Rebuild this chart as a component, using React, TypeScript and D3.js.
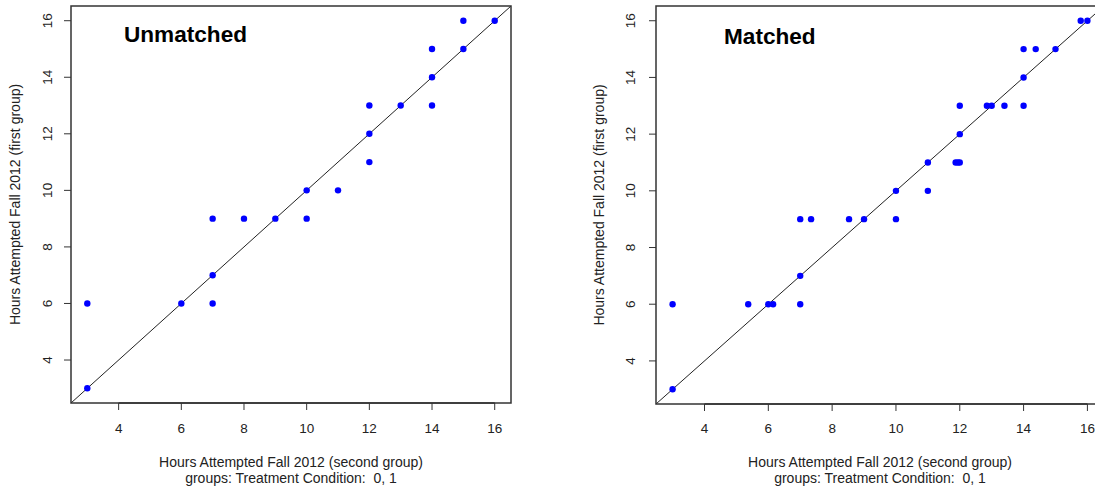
import React from "react";
import * as d3 from "d3";

// Unmatched sample: second-group hours (x) vs first-group hours (y)
const unmatchedX = [3, 3, 6, 7, 7, 7, 8, 9, 10, 10, 11, 12, 12, 12, 13, 14, 14, 14, 15, 15, 16];
const unmatchedY = [3, 6, 6, 7, 6, 9, 9, 9, 10, 9, 10, 13, 12, 11, 13, 15, 14, 13, 16, 15, 16];

// Matched sample
const matchedX = [3, 3, 5.37, 6, 6.15, 7, 7, 7, 7.34, 8.53, 9, 10, 10, 11, 11, 11.87, 11.94, 12, 12, 12, 12.85, 13, 13.4, 14, 14, 14, 14.38, 15, 15.79, 16];
const matchedY = [3, 6, 6, 6, 6, 7, 6, 9, 9, 9, 9, 10, 9, 11, 10, 11, 11, 11, 12, 13, 13, 13, 13, 15, 14, 13, 15, 15, 16, 16];

const tickValues = [4, 6, 8, 10, 12, 14, 16];
const domain: [number, number] = [2.48, 16.52];

const xLabel = "Hours Attempted Fall 2012 (second group)";
const xSubLabel = "groups: Treatment Condition:  0, 1";
const yLabel = "Hours Attempted Fall 2012 (first group)";

const FONT = "'Liberation Sans', Arial, Helvetica, sans-serif";
const LABEL_SIZE = 14;
const TICK_SIZE = 13.5;

type PanelProps = {
  title: string;
  xs: number[];
  ys: number[];
  left: number;
  right: number;
  top: number;
  bottom: number;
  titleX: number;
  titleY: number;
  tickLabelX: number;
  yLabelX: number;
};

function Panel({ title, xs, ys, left, right, top, bottom, titleX, titleY, tickLabelX, yLabelX }: PanelProps) {
  const x = d3.scaleLinear().domain(domain).range([left, right]);
  const y = d3.scaleLinear().domain(domain).range([bottom, top]);
  const cx = (left + right) / 2;
  const cy = (top + bottom) / 2;
  const tickLen = 7;
  return (
    <g>
      {/* identity line */}
      <line x1={x(domain[0])} y1={y(domain[0])} x2={x(domain[1])} y2={y(domain[1])} stroke="#222" strokeWidth={1} />
      {/* points */}
      {xs.map((v, i) => (
        <circle key={i} cx={x(v)} cy={y(ys[i])} r={3.2} fill="#0000ff" />
      ))}
      {/* frame */}
      <rect x={left} y={top} width={right - left} height={bottom - top} fill="none" stroke="#333" strokeWidth={1.5} />
      {/* x axis */}
      <line x1={x(tickValues[0])} x2={x(tickValues[tickValues.length - 1])} y1={bottom} y2={bottom} stroke="#333" strokeWidth={1.5} />
      {tickValues.map((t) => (
        <g key={"xt" + t}>
          <line x1={x(t)} x2={x(t)} y1={bottom} y2={bottom + tickLen} stroke="#333" strokeWidth={1} />
          <text x={x(t)} y={433} textAnchor="middle" fontSize={TICK_SIZE} fill="#222" fontFamily={FONT}>
            {t}
          </text>
        </g>
      ))}
      {/* y axis */}
      {tickValues.map((t) => (
        <g key={"yt" + t}>
          <line x1={left - tickLen} x2={left} y1={y(t)} y2={y(t)} stroke="#333" strokeWidth={1} />
          <text
            transform={`translate(${tickLabelX},${y(t)}) rotate(-90)`}
            textAnchor="middle"
            dy="0.35em"
            fontSize={TICK_SIZE}
            fill="#222"
            fontFamily={FONT}
          >
            {t}
          </text>
        </g>
      ))}
      {/* axis titles */}
      <text x={cx} y={467} textAnchor="middle" fontSize={LABEL_SIZE} fill="#222" fontFamily={FONT}>
        {xLabel}
      </text>
      <text
        x={cx}
        y={483}
        textAnchor="middle"
        fontSize={LABEL_SIZE}
        fill="#222"
        fontFamily={FONT}
        style={{ whiteSpace: "pre" }}
      >
        {xSubLabel}
      </text>
      <text
        transform={`translate(${yLabelX},${cy}) rotate(-90)`}
        textAnchor="middle"
        dy="0.35em"
        fontSize={LABEL_SIZE}
        fill="#222"
        fontFamily={FONT}
      >
        {yLabel}
      </text>
      {/* panel title */}
      <text x={titleX} y={titleY} fontSize={22.6} fontWeight="bold" fill="#000" fontFamily={FONT}>
        {title}
      </text>
    </g>
  );
}

export default function App() {
  return (
    <svg
      width={1095}
      height={493}
      style={{ position: "absolute", left: 0, top: 0, background: "#fff" }}
    >
      <rect width={1095} height={493} fill="#fff" />
      <Panel
        title="Unmatched"
        xs={unmatchedX}
        ys={unmatchedY}
        left={71}
        right={511}
        top={6}
        bottom={403}
        titleX={124}
        titleY={42}
        tickLabelX={47}
        yLabelX={15}
      />
      <Panel
        title="Matched"
        xs={matchedX}
        ys={matchedY}
        left={656}
        right={1104}
        top={6}
        bottom={404}
        titleX={724}
        titleY={44}
        tickLabelX={630}
        yLabelX={599}
      />
    </svg>
  );
}
